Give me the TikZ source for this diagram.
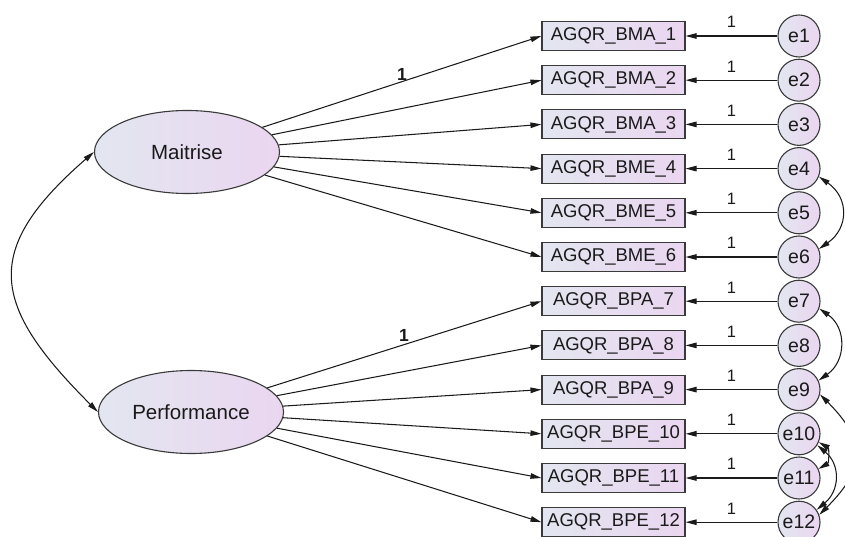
\documentclass[tikz,border=0pt]{standalone}
\usepackage{fontspec}
\setmainfont{Liberation Sans}
\usetikzlibrary{arrows.meta,shapes.geometric}
\definecolor{fillL}{HTML}{E3E6F0}
\definecolor{fillR}{HTML}{EAD6F0}
\definecolor{edge}{HTML}{3A3A3A}
\definecolor{ink}{HTML}{1A1A1A}
\begin{document}
\begin{tikzpicture}[x=1pt,y=1pt,
  shade/.style={left color=fillL,right color=fillR,draw=edge,line width=1.1pt},
  latent/.style={shade,ellipse,minimum width=185pt,minimum height=83pt,inner sep=0pt,
    text=ink,font=\fontsize{20.5}{22}\selectfont},
  obsbox/.style={shade,rectangle,minimum width=143pt,minimum height=29pt,inner sep=0pt,
    text=ink,font=\fontsize{18.5}{20}\selectfont},
  errc/.style={shade,circle,minimum size=42pt,inner sep=0pt,
    text=ink,font=\fontsize{19.5}{21}\selectfont},
  load/.style={-{Triangle[length=11pt,width=5.5pt]},line width=1.05pt,draw=ink},
  cov/.style={{Triangle[length=11pt,width=5.5pt]}-{Triangle[length=11pt,width=5.5pt]},line width=1.05pt,draw=ink},
  one/.style={font=\fontsize{16.5}{18}\selectfont,text=ink,above=5.5pt,inner sep=2pt},
  bone/.style={font=\fontsize{17.5}{18}\selectfont\bfseries,text=ink,inner sep=0pt}
]
\useasboundingbox (0,0) rectangle (845,-537);

% latent factors
\node[latent] (M) at (187,-152) {Maitrise};
\node[latent] (P) at (191,-412) {Performance};

% indicators and their error terms
\foreach \i/\lab in {1/AGQR\_BMA\_1,2/AGQR\_BMA\_2,3/AGQR\_BMA\_3,
                     4/AGQR\_BME\_4,5/AGQR\_BME\_5,6/AGQR\_BME\_6,
                     7/AGQR\_BPA\_7,8/AGQR\_BPA\_8,9/AGQR\_BPA\_9,
                     10/AGQR\_BPE\_10,11/AGQR\_BPE\_11,12/AGQR\_BPE\_12}{
  \pgfmathsetmacro{\yy}{-(36+44.2*(\i-1))}
  \node[obsbox] (b\i) at (613.5,\yy) {\lab};
  \node[errc] (e\i) at (799,\yy) {e\i};
  \draw[load] (e\i) -- node[one] {1} (b\i);
}

% factor loadings
\foreach \i in {1,...,6}{ \draw[load] (M) -- (b\i.west); }
\foreach \i in {7,...,12}{ \draw[load] (P) -- (b\i.west); }
\node[bone] (f1) at (402,-74) {1};
\node[bone] (f2) at (404,-335) {1};

% factor covariance
\draw[cov] (M.west) to[out=221,in=135,looseness=1.48] (P.west);

% error covariances
\draw[cov] (e4.-22) to[out=-35,in=35,looseness=1.3] (e6.22);
\draw[cov] (e7.-20) to[out=-35,in=35,looseness=1.2] (e9.25);
\draw[cov] (e9.-13) to[out=-45,in=45,looseness=1.4] (e12.20);
\draw[cov] (e10.-23) to[out=-30,in=30,looseness=1.15] (e11.25);
\draw[cov] (e10.-32) to[out=-40,in=40,looseness=1.2] (e12.35);
\end{tikzpicture}
\end{document}
